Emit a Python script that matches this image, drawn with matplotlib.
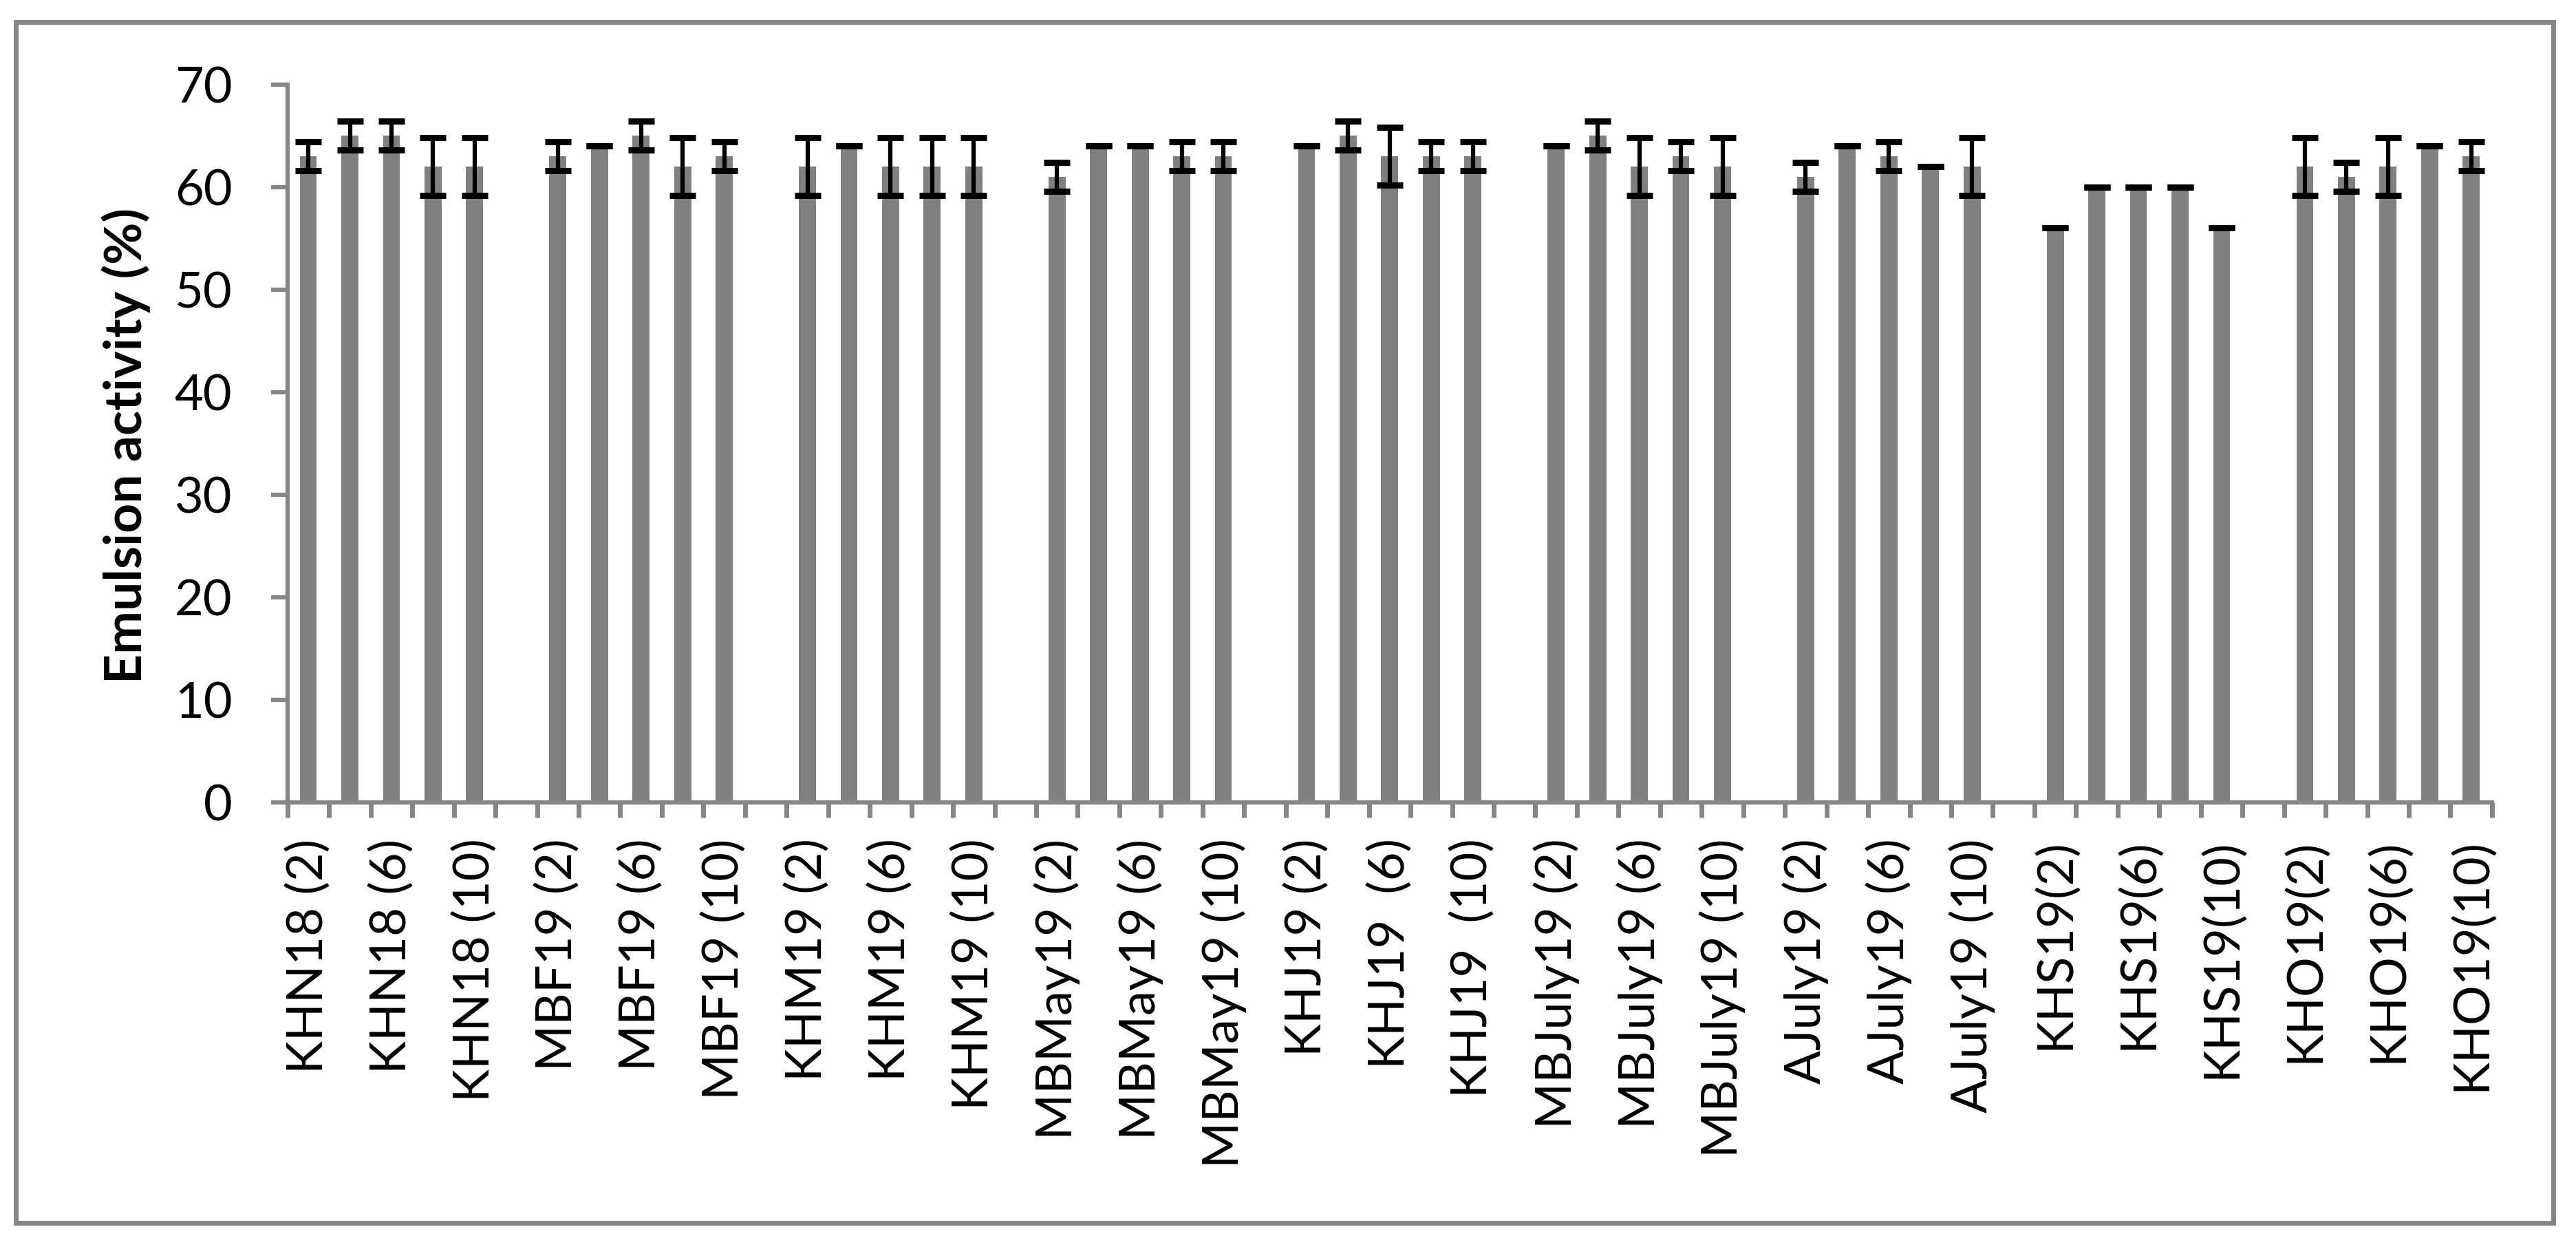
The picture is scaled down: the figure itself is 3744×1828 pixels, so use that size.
import numpy as np
import matplotlib.pyplot as plt
from matplotlib.patches import Rectangle

plt.rcParams['font.family'] = ['Lato', 'DejaVu Sans']

# sample groups, five sampling points each
groups = ["KHN18", "MBF19", "KHM19", "MBMay19", "KHJ19",
          "MBJuly19", "AJuly19", "KHS19", "KHO19"]

activity = [
    [63, 65, 65, 62, 62],   # KHN18
    [63, 64, 65, 62, 63],   # MBF19
    [62, 64, 62, 62, 62],   # KHM19
    [61, 64, 64, 63, 63],   # MBMay19
    [64, 65, 63, 63, 63],   # KHJ19
    [64, 65, 62, 63, 62],   # MBJuly19
    [61, 64, 63, 62, 62],   # AJuly19
    [56, 60, 60, 60, 56],   # KHS19
    [62, 61, 62, 64, 63],   # KHO19
]

errors = [
    [1.41, 1.41, 1.41, 2.83, 2.83],
    [1.41, 0.00, 1.41, 2.83, 1.41],
    [2.83, 0.00, 2.83, 2.83, 2.83],
    [1.41, 0.00, 0.00, 1.41, 1.41],
    [0.00, 1.41, 2.83, 1.41, 1.41],
    [0.00, 1.41, 2.83, 1.41, 2.83],
    [1.41, 0.00, 1.41, 0.00, 2.83],
    [0.00, 0.00, 0.00, 0.00, 0.00],
    [2.83, 1.41, 2.83, 0.00, 1.41],
]

# only every second category carries a label on the axis
tick_labels = [
    "KHN18 (2)", "KHN18 (6)", "KHN18 (10)",
    "MBF19 (2)", "MBF19 (6)", "MBF19 (10)",
    "KHM19 (2)", "KHM19 (6)", "KHM19 (10)",
    "MBMay19 (2)", "MBMay19 (6)", "MBMay19 (10)",
    "KHJ19 (2)", "KHJ19  (6)", "KHJ19  (10)",
    "MBJuly19 (2)", "MBJuly19 (6)", "MBJuly19 (10)",
    "AJuly19 (2)", "AJuly19 (6)", "AJuly19 (10)",
    "KHS19(2)", "KHS19(6)", "KHS19(10)",
    "KHO19(2)", "KHO19(6)", "KHO19(10)",
]

GREY = '#868686'
BAR = '#808080'

# each group takes 5 slots plus one empty slot before the next
n_slots = len(groups) * 6 - 1
x, vals, errs = [], [], []
for g in range(len(groups)):
    for k in range(5):
        x.append(6 * g + k)
        vals.append(activity[g][k])
        errs.append(errors[g][k])
label_pos = [6 * g + k for g in range(len(groups)) for k in (0, 2, 4)]

fig = plt.figure(figsize=(37.44, 18.28), dpi=100)
ax = fig.add_axes([0.1116, 0.3623, 0.8558, 0.5706])

ax.bar(x, vals, width=0.41, color=BAR, zorder=2)
ax.errorbar(x, vals, yerr=errs, fmt='none', ecolor='black',
            elinewidth=4.5, capsize=14, capthick=6.5, zorder=3)

ax.set_xlim(-0.5, n_slots - 0.5)
ax.set_ylim(0, 70)
ax.set_yticks(np.arange(0, 71, 10))

for side in ('top', 'right'):
    ax.spines[side].set_visible(False)
for side in ('left', 'bottom'):
    ax.spines[side].set_color(GREY)
    ax.spines[side].set_linewidth(4.5)

ax.tick_params(axis='y', length=17, width=4.5, color=GREY, pad=41,
               labelsize=52)
ax.set_xticks(label_pos)
ax.set_xticklabels(tick_labels, rotation=90, va='top', ha='center')
ax.set_xticks(np.arange(-0.5, n_slots, 1), minor=True)
ax.tick_params(axis='x', which='major', length=0, pad=38, labelsize=52)
ax.tick_params(axis='x', which='minor', length=16, width=5, color=GREY)

fig.text(0.0489, 0.646, "Emulsion activity (%)", rotation=90,
         ha='center', va='center', fontsize=54, fontweight='bold')

# chart area border
fig.patches.append(Rectangle((0.00614, 0.0279), 0.98505, 0.9546,
                             transform=fig.transFigure, fill=False,
                             edgecolor=GREY, linewidth=5))

fig.savefig('out.png', dpi=100)
plt.close(fig)
